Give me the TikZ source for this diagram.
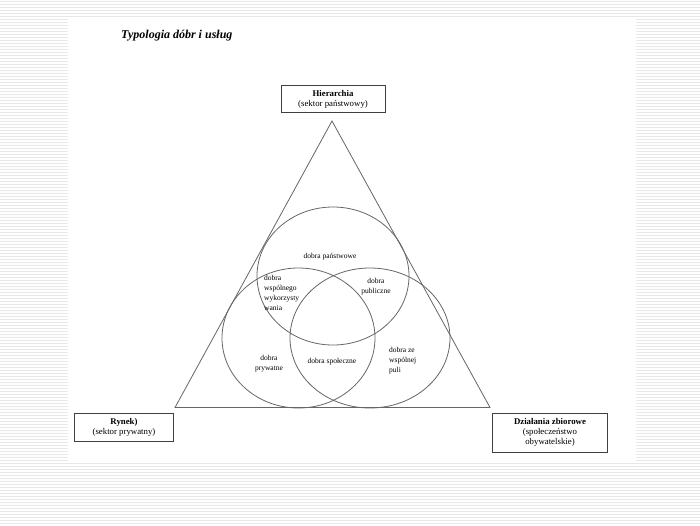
\documentclass[tikz,border=0pt]{standalone}
\usepackage{fontspec}
\setmainfont{Liberation Serif}
\begin{document}
\begin{tikzpicture}[x=1pt,y=-1pt,
  line/.style={draw=black!60, line width=0.8pt},
  boxstyle/.style={draw=black!75, line width=0.8pt, align=center, inner sep=1pt,
     font=\fontsize{8.8}{10}\selectfont},
  lbl/.style={font=\fontsize{7.5}{10}\selectfont, inner sep=0pt},
  stripe/.style={draw=black!9, line width=1pt}]
\useasboundingbox (0,0) rectangle (700,525);
\fill[white] (0,0) rectangle (700,525);
\foreach \y in {1.5,4.5,...,525} \draw[stripe] (0,\y) -- (700,\y);
\fill[white] (68,18) rectangle (636,462);

\node[anchor=west, inner sep=0pt, font=\bfseries\itshape\fontsize{12}{14}\selectfont] (title) at (121,36) {Typologia dóbr i usług};

\node[boxstyle, minimum width=104pt, minimum height=27pt] (hier) at (333,99) {\textbf{Hierarchia}\\(sektor państwowy)};
\node[boxstyle, minimum width=99pt, minimum height=28pt] (rynek) at (124,427.5) {\textbf{Rynek)}\\(sektor prywatny)};
\node[boxstyle, minimum width=115pt, minimum height=39pt] (dzial) at (550,432.5) {\textbf{Działania zbiorowe}\\(społeczeństwo\\obywatelskie)};

\coordinate (apex) at (332,121);
\coordinate (bl) at (175,407.5);
\coordinate (br) at (490,407.5);
\draw[line] (apex) -- (bl) -- (br) -- cycle;

\draw[line] (333,276) ellipse [x radius=76, y radius=69];
\draw[line] (298.5,338) ellipse [x radius=76.5, y radius=70];
\draw[line] (370,338) ellipse [x radius=80, y radius=70];

\node[lbl] (panst) at (330,257) {dobra państwowe};
\node[lbl, anchor=north west, align=left] (wspol) at (264,275) {dobra\\wspólnego\\wykorzysty\\wania};
\node[lbl, align=center] (publ) at (376,287) {dobra\\publiczne};
\node[lbl, align=center] (pryw) at (269,364) {dobra\\prywatne};
\node[lbl] (spol) at (332,362) {dobra społeczne};
\node[lbl, anchor=north west, align=left] (puli) at (389,347) {dobra ze\\wspólnej\\puli};
\end{tikzpicture}
\end{document}
